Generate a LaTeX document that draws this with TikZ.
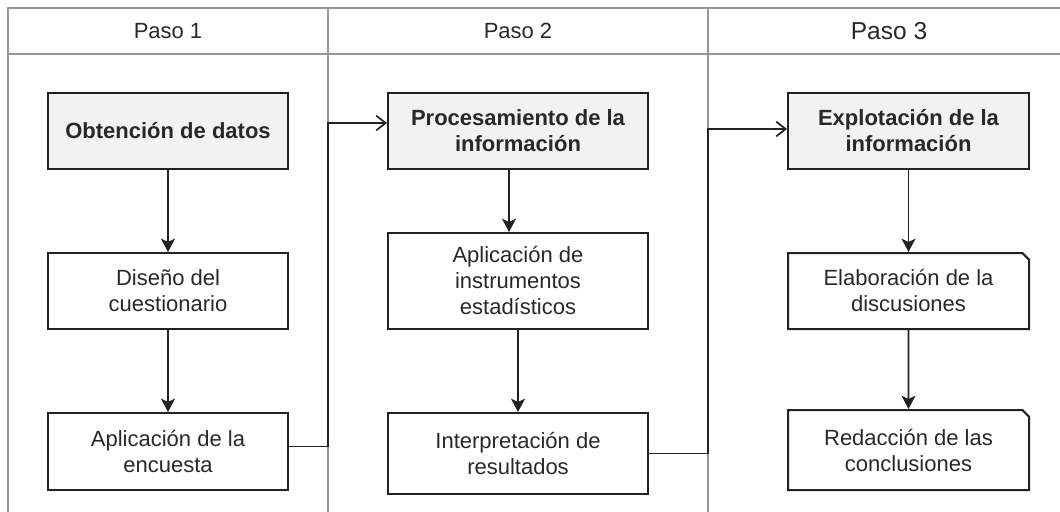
\documentclass[tikz,border=0pt]{standalone}
\usepackage{fontspec}
\setmainfont{Liberation Sans}
\usetikzlibrary{arrows.meta,shapes.misc}

\definecolor{lanegray}{RGB}{150,150,150}
\definecolor{boxline}{RGB}{34,34,34}
\definecolor{boxfill}{RGB}{242,242,242}
\definecolor{txtgray}{RGB}{40,40,40}

\tikzset{every picture/.style={line width=0.75pt}}
\tikzset{
  lane/.style={draw=lanegray, line width=1pt},
  lanehead/.style={text=txtgray, inner sep=0.75pt, font=\fontsize{16.5}{19.5}\selectfont},
  stepbox/.style={draw=boxline, line width=1.5pt, text=txtgray, align=center, inner sep=0.75pt, font=\fontsize{16.5}{19.5}\selectfont},
  headbox/.style={stepbox, fill=boxfill, font=\bfseries\fontsize{16.5}{19.5}\selectfont},
  notebox/.style={stepbox, chamfered rectangle, chamfered rectangle corners=north east, chamfered rectangle xsep=2.5pt, chamfered rectangle ysep=2.5pt},
  flow/.style={draw=boxline, line width=1.3pt, -{Stealth[length=10pt,width=10.5pt,inset=2.5pt]}},
  jump/.style={draw=boxline, line width=1.3pt, -{Straight Barb[length=7pt,width=11pt]}},
}

\begin{document}
\begin{tikzpicture}[x=0.75pt,y=0.75pt,yscale=-1,xscale=1]
\clip (0,0) rectangle (1060,511);

%Lanes
\coordinate (d1) at (328,8);
\coordinate (d2) at (708,8);
\draw [lane] (8,520) -- (8,8) -- (1070,8);
\draw [lane] (8,54) -- (1070,54);
\draw [lane] (d1) -- (328,520);
\draw [lane] (d2) -- (708,520);

% Text Node
\node [lanehead] (paso1) at (168,31) {Paso 1};
% Text Node
\node [lanehead] (paso2) at (518,31) {Paso 2};
% Text Node
\node [lanehead, font=\fontsize{18.4}{21}\selectfont] (paso3) at (889,31) {Paso 3};

%Paso 1
\node [headbox, minimum width=180pt, minimum height=57pt] (obt) at (168,131) {Obtención de datos};
\node [stepbox, minimum width=180pt, minimum height=57pt] (dis) at (168,291) {Diseño del\\cuestionario};
\node [stepbox, minimum width=180pt, minimum height=57.75pt] (enc) at (168,451.5) {Aplicación de la\\encuesta};

%Paso 2
\node [headbox, minimum width=195pt, minimum height=57pt] (proc) at (518,131) {Procesamiento de la\\información};
\node [stepbox, minimum width=195pt, minimum height=72pt] (inst) at (518,281) {Aplicación de\\instrumentos\\estadísticos};
\node [stepbox, minimum width=195pt, minimum height=60.75pt] (interp) at (518,453.5) {Interpretación de\\resultados};

%Paso 3
\node [headbox, minimum width=180.75pt, minimum height=57pt] (expl) at (908.5,131) {Explotación de la\\información};
\node [notebox, minimum width=180.75pt, minimum height=57pt] (elab) at (908.5,291) {Elaboración de la\\discusiones};
\node [notebox, minimum width=180.75pt, minimum height=60pt] (red) at (908.5,450) {Redacción de las\\conclusiones};

%Straight Lines
\draw [flow] (obt) -- (dis);
\draw [flow] (dis) -- (enc);
\draw [flow] ([xshift=-6.75pt]proc.south) -- ([xshift=-6.75pt]inst.north);
\draw [flow] (inst) -- (interp);
\draw [flow] (expl) -- (elab);
\draw [flow] (elab) -- (red);

%Elbow Lines
\draw [jump] ([yshift=-3.75pt]enc.east) -| ([yshift=-6pt]d1 |- proc.west) -- ([yshift=-6pt]proc.west);
\draw [jump] (interp.east) -| ([yshift=-1.5pt]d2 |- expl.west) -- ([yshift=-1.5pt]expl.west);

\end{tikzpicture}
\end{document}
